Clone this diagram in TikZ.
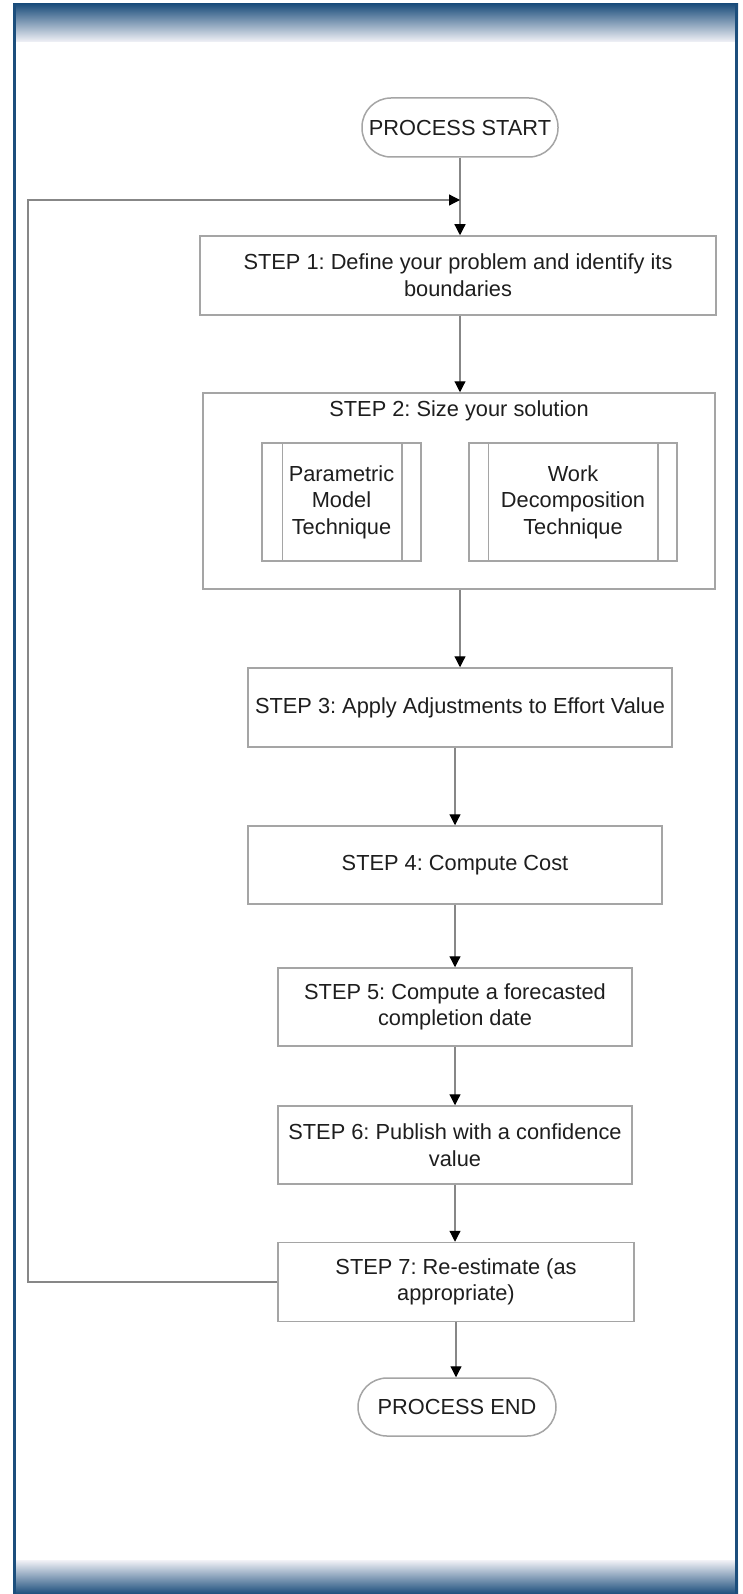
\documentclass[tikz,border=0pt]{standalone}
\usepackage{fontspec}
\setmainfont{Liberation Sans}
\usetikzlibrary{arrows.meta}
\definecolor{framedark}{RGB}{28,78,124}
\definecolor{framemid}{RGB}{140,152,185}
\definecolor{framelight}{RGB}{242,242,247}
\definecolor{boxline}{RGB}{165,165,165}
\definecolor{linkline}{RGB}{135,135,135}
\definecolor{inktext}{RGB}{30,30,30}

\begin{document}
\frenchspacing
\begin{tikzpicture}[x=0.5pt,y=-0.5pt,
  every node/.style={font=\fontsize{10.9pt}{13.3pt}\selectfont, text=inktext},
  stepbox/.style={draw=boxline, line width=0.75pt, fill=white, align=center, inner sep=0pt},
  termbox/.style={stepbox, rounded corners=14.5pt},
  titletext/.style={inner sep=0pt, align=center},
  link/.style={draw=linkline, line width=0.6pt,
    -{Triangle[length=5.5pt,width=5.5pt,color=black,fill=black]}},
  edge line/.style={draw=boxline, line width=0.75pt}]

% page and frame
\useasboundingbox (0,0) rectangle (743,1594);
\fill[white] (0,0) rectangle (743,1594);
\shade[top color=framedark, middle color=framemid, bottom color=framelight]
  (13,4) rectangle (738,42);
\shade[top color=framelight, middle color=framemid, bottom color=framedark]
  (13,1560) rectangle (738,1594);
\fill[framedark] (13,4) rectangle (16,1594);
\fill[framedark] (735,4) rectangle (738,1594);

% terminals and steps
\node[termbox, minimum width=98pt, minimum height=29.5pt] (start) at (460,127.5) {PROCESS START};
\node[stepbox, minimum width=258pt, minimum height=39.5pt] (step1) at (458,275.5)
  {STEP 1: Define your problem and identify its\\boundaries};
\node[stepbox, minimum width=256pt, minimum height=98pt] (step2) at (459,491) {};
\node[titletext] (step2title) at (459,411) {STEP 2: Size your solution};

% sub-processes inside step 2
\node[stepbox, minimum width=79.5pt, minimum height=59pt] (param) at (341.5,502)
  {Parametric\\Model\\Technique};
\draw[edge line] ([xshift=10.5pt]param.north west) -- ([xshift=10.5pt]param.south west);
\draw[edge line] ([xshift=-10pt]param.north east) -- ([xshift=-10pt]param.south east);
\node[stepbox, minimum width=104pt, minimum height=59pt] (work) at (573,502)
  {Work\\Decomposition\\Technique};
\draw[edge line] ([xshift=10pt]work.north west) -- ([xshift=10pt]work.south west);
\draw[edge line] ([xshift=-10pt]work.north east) -- ([xshift=-10pt]work.south east);

\node[stepbox, minimum width=212pt, minimum height=39.5pt] (step3) at (460,707.5)
  {STEP 3: Apply Adjustments to Effort Value};
\node[stepbox, minimum width=207pt, minimum height=39pt] (step4) at (455,865)
  {STEP 4: Compute Cost};
\node[stepbox, minimum width=177pt, minimum height=39pt] (step5) at (455,1007)
  {STEP 5: Compute a forecasted\\completion date};
\node[stepbox, minimum width=177pt, minimum height=39pt] (step6) at (455,1145)
  {STEP 6: Publish with a confidence\\value};
\node[stepbox, minimum width=178pt, minimum height=39.5pt] (step7) at (456,1282)
  {STEP 7: Re-estimate (as\\appropriate)};
\node[termbox, minimum width=99pt, minimum height=29pt] (stop) at (457,1407) {PROCESS END};

% connectors
\coordinate (looptop) at (28,200);
\coordinate (joint) at (460,200);
\draw[link] (start.south) -- (start.south |- step1.north);
\draw[link] (step1.south -| start.south) -- (start.south |- step2.north);
\draw[link] (step2.south -| start.south) -- (start.south |- step3.north);
\draw[link] (step4.north |- step3.south) -- (step4.north);
\draw[link] (step4.south) -- (step5.north);
\draw[link] (step5.south) -- (step6.north);
\draw[link] (step6.south) -- (step6.south |- step7.north);
\draw[link] (step7.south) -- (step7.south |- stop.north);
\draw[link] (step7.west) -| (looptop) -- (joint);

\end{tikzpicture}
\end{document}
